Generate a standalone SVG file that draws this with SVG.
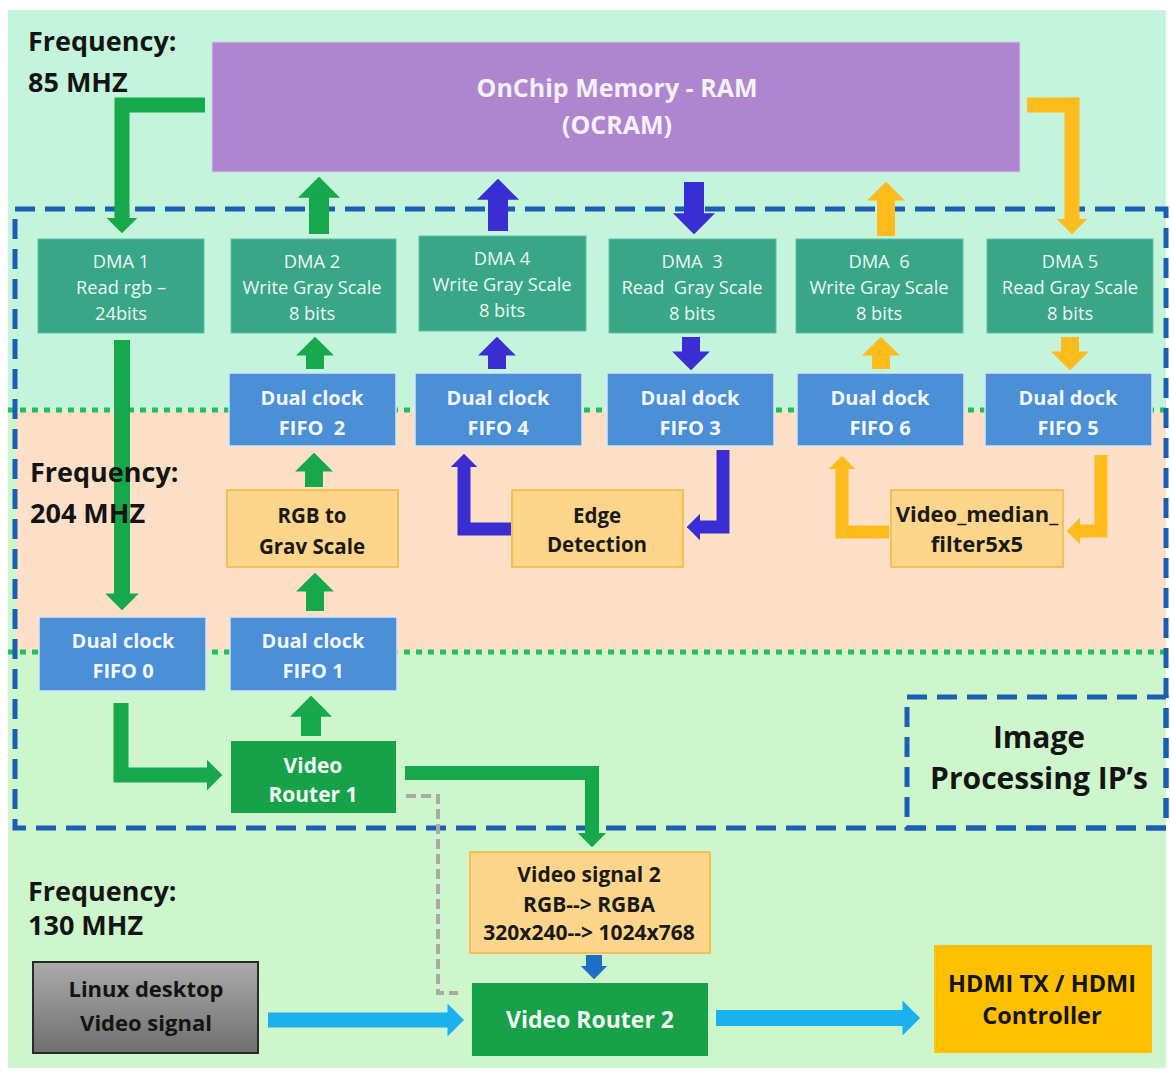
<svg xmlns="http://www.w3.org/2000/svg" width="1170" height="1074" viewBox="0 0 1170 1074">
<style>
text{font-family:"Open Sans",Lato,"Liberation Sans",Arial,sans-serif;text-anchor:middle}
.freq{font-size:27px;font-weight:700;fill:#141414;text-anchor:start}
.big{font-size:30px;font-weight:700;fill:#141414}
.ocram rect{fill:#ae86d0;stroke:#d8c8e8;stroke-width:1}
.ocram text{font-size:25px;font-weight:700;fill:#f6f0fb}
.dma rect{fill:#38a687;stroke:#62c0a3;stroke-width:1}
.dma text{font-size:18.3px;fill:#eef8f3}
.fifo rect{fill:#4b8fd6;stroke:#d5e5f7;stroke-width:1.5}
.fifo text{font-size:20px;font-weight:700;fill:#f3f8fd}
.proc rect{fill:#fed68b;stroke:#f2b63a;stroke-width:1.5}
.proc text{font-size:20.5px;font-weight:700;fill:#1a1a1a}
.router rect{fill:#17a24a}
.router text{font-size:21px;font-weight:700;fill:#f2fbf4}
.dark text{font-size:22px;font-weight:700;fill:#141414}
.conn path{fill:none;stroke-linejoin:miter}
.g{stroke:#16a84a}
.b{stroke:#3a2dd1}
.o{stroke:#fdbb1c}
.c{stroke:#1bb0ee}
.db{stroke:#1f6dc7}
</style>
<defs>
<marker id="mg" viewBox="0 0 10 20" refX="0.3" refY="10" markerWidth="1.05" markerHeight="2.15" markerUnits="strokeWidth" orient="auto"><path d="M0,0L10,10L0,20z" fill="#16a84a"/></marker>
<marker id="mb" viewBox="0 0 10 20" refX="0.3" refY="10" markerWidth="1.05" markerHeight="2.15" markerUnits="strokeWidth" orient="auto"><path d="M0,0L10,10L0,20z" fill="#3a2dd1"/></marker>
<marker id="mo" viewBox="0 0 10 20" refX="0.3" refY="10" markerWidth="1.05" markerHeight="2.15" markerUnits="strokeWidth" orient="auto"><path d="M0,0L10,10L0,20z" fill="#fdbb1c"/></marker>
<marker id="mc" viewBox="0 0 10 20" refX="0.3" refY="10" markerWidth="1.3" markerHeight="2.2" markerUnits="strokeWidth" orient="auto"><path d="M0,0L10,10L0,20z" fill="#1bb0ee"/></marker>
<marker id="mdb" viewBox="0 0 10 20" refX="0.3" refY="10" markerWidth="0.85" markerHeight="2.1" markerUnits="strokeWidth" orient="auto"><path d="M0,0L10,10L0,20z" fill="#1f6dc7"/></marker>
<linearGradient id="gray" x1="0" y1="0" x2="0" y2="1"><stop offset="0" stop-color="#ababab"/><stop offset="1" stop-color="#6f6f6f"/></linearGradient>
</defs>

<g id="background">
<rect x="0" y="0" width="1170" height="1074" fill="#ffffff"/>
<rect x="8" y="10" width="1158" height="1058" fill="#cdf6cc"/>
<rect x="8" y="10" width="1158" height="400" fill="#c5f4dc"/>
<rect x="16" y="410" width="1150" height="242" fill="#fde0c7"/>
<path d="M8,410H1166M8,652H1166" stroke="#1fc25a" stroke-width="5" stroke-dasharray="6 6" fill="none"/>
<rect x="15" y="209" width="1151" height="619" fill="none" stroke="#1a5fb4" stroke-width="5" stroke-dasharray="20 10"/>
<rect x="907" y="697" width="259" height="131" fill="none" stroke="#1a5fb4" stroke-width="5" stroke-dasharray="20 10"/>
</g>

<g id="connectors" class="conn">
<path class="g" stroke-width="15" d="M205,105H122V218" marker-end="url(#mg)"/>
<path class="g" stroke-width="20" d="M319,234V197" marker-end="url(#mg)"/>
<path class="b" stroke-width="20" d="M498,231V199" marker-end="url(#mb)"/>
<path class="b" stroke-width="20" d="M694,182V214" marker-end="url(#mb)"/>
<path class="o" stroke-width="18" d="M886,236V200" marker-end="url(#mo)"/>
<path class="o" stroke-width="15" d="M1027,105H1072V219" marker-end="url(#mo)"/>
<path class="g" stroke-width="16" d="M122,340V594" marker-end="url(#mg)"/>
<path class="g" stroke-width="18" d="M315,369V355" marker-end="url(#mg)"/>
<path class="b" stroke-width="18" d="M497,369V355" marker-end="url(#mb)"/>
<path class="b" stroke-width="18" d="M691,337V352" marker-end="url(#mb)"/>
<path class="o" stroke-width="18" d="M881,369V355" marker-end="url(#mo)"/>
<path class="o" stroke-width="18" d="M1070,337V352" marker-end="url(#mo)"/>
<path class="g" stroke-width="18" d="M314,487V471" marker-end="url(#mg)"/>
<path class="g" stroke-width="18" d="M315,611V591" marker-end="url(#mg)"/>
<path class="b" stroke-width="13" d="M723,450V527H700" marker-end="url(#mb)"/>
<path class="b" stroke-width="13" d="M511,529H464V467" marker-end="url(#mb)"/>
<path class="o" stroke-width="13" d="M1101,455V531H1080" marker-end="url(#mo)"/>
<path class="o" stroke-width="13" d="M889,532H842V469" marker-end="url(#mo)"/>
<path class="g" stroke-width="15" d="M121,703V775H207" marker-end="url(#mg)"/>
<path class="g" stroke-width="20" d="M311,736V716" marker-end="url(#mg)"/>
<path class="g" stroke-width="14" d="M405,773H592V833" marker-end="url(#mg)"/>
<path d="M406,796H438V993H458" stroke="#a9a9a9" stroke-width="4" stroke-dasharray="10 5"/>
<path class="db" stroke-width="16" d="M594,955V966" marker-end="url(#mdb)"/>
<path class="c" stroke-width="15" d="M268,1020H448" marker-end="url(#mc)"/>
<path class="c" stroke-width="16" d="M716,1018H903" marker-end="url(#mc)"/>
</g>

<g id="labels">
<text class="freq" x="28" y="51">Frequency:</text>
<text class="freq" x="28" y="92">85 MHZ</text>
<text class="freq" x="30" y="482">Frequency:</text>
<text class="freq" x="30" y="523">204 MHZ</text>
<text class="freq" x="28" y="901">Frequency:</text>
<text class="freq" x="28" y="935">130 MHZ</text>
<g id="image-processing-label"><text class="big" x="1039" y="748">Image</text><text class="big" x="1039" y="789">Processing IP’s</text></g>
</g>

<g id="ocram" class="ocram"><rect x="212" y="42" width="808" height="130"/><text x="617" y="97">OnChip Memory - RAM</text><text x="617" y="134">(OCRAM)</text></g>

<g id="dma1" class="dma"><rect x="38" y="239" width="166" height="94"/><text x="121" y="268">DMA 1</text><text x="121" y="294">Read rgb –</text><text x="121" y="320">24bits</text></g>
<g id="dma2" class="dma"><rect x="231" y="239" width="165" height="94"/><text x="312" y="268">DMA 2</text><text x="312" y="294">Write Gray Scale</text><text x="312" y="320">8 bits</text></g>
<g id="dma4" class="dma"><rect x="419" y="236" width="167" height="95"/><text x="502" y="265">DMA 4</text><text x="502" y="291">Write Gray Scale</text><text x="502" y="317">8 bits</text></g>
<g id="dma3" class="dma"><rect x="609" y="239" width="167" height="94"/><text x="692" y="268" xml:space="preserve">DMA  3</text><text x="692" y="294" xml:space="preserve">Read  Gray Scale</text><text x="692" y="320">8 bits</text></g>
<g id="dma6" class="dma"><rect x="796" y="239" width="167" height="94"/><text x="879" y="268" xml:space="preserve">DMA  6</text><text x="879" y="294">Write Gray Scale</text><text x="879" y="320">8 bits</text></g>
<g id="dma5" class="dma"><rect x="987" y="239" width="166" height="94"/><text x="1070" y="268">DMA 5</text><text x="1070" y="294">Read Gray Scale</text><text x="1070" y="320">8 bits</text></g>

<g id="fifo2" class="fifo"><rect x="229" y="373" width="167" height="73"/><text x="312" y="405">Dual clock</text><text x="312" y="435" xml:space="preserve">FIFO  2</text></g>
<g id="fifo4" class="fifo"><rect x="415" y="373" width="167" height="73"/><text x="498" y="405">Dual clock</text><text x="498" y="435">FIFO 4</text></g>
<g id="fifo3" class="fifo"><rect x="607" y="373" width="167" height="73"/><text x="690" y="405">Dual dock</text><text x="690" y="435">FIFO 3</text></g>
<g id="fifo6" class="fifo"><rect x="797" y="373" width="167" height="73"/><text x="880" y="405">Dual dock</text><text x="880" y="435">FIFO 6</text></g>
<g id="fifo5" class="fifo"><rect x="985" y="373" width="167" height="73"/><text x="1068" y="405">Dual dock</text><text x="1068" y="435">FIFO 5</text></g>
<g id="fifo0" class="fifo"><rect x="39" y="617" width="167" height="74"/><text x="123" y="648">Dual clock</text><text x="123" y="678">FIFO 0</text></g>
<g id="fifo1" class="fifo"><rect x="230" y="617" width="167" height="74"/><text x="313" y="648">Dual clock</text><text x="313" y="678">FIFO 1</text></g>

<g id="rgb-to-gray" class="proc"><rect x="227" y="490" width="171" height="77"/><text x="312" y="523">RGB to</text><text x="312" y="554">Grav Scale</text></g>
<g id="edge-detection" class="proc"><rect x="512" y="490" width="171" height="77"/><text x="597" y="523">Edge</text><text x="597" y="552">Detection</text></g>
<g id="median-filter" class="proc"><rect x="891" y="490" width="172" height="77"/><text x="977" y="522" style="font-size:22px">Video_median_</text><text x="977" y="552" style="font-size:22px">filter5x5</text></g>

<g id="video-router-1" class="router"><rect x="231" y="741" width="165" height="72"/><text x="313" y="773">Video</text><text x="313" y="802">Router 1</text></g>
<g id="video-signal-2" class="proc"><rect x="470" y="852" width="240" height="101" stroke="none"/><text x="589" y="882" style="font-size:21px">Video signal 2</text><text x="589" y="912" style="font-size:21px">RGB--&gt; RGBA</text><text x="589" y="940" style="font-size:21px">320x240--&gt; 1024x768</text></g>
<g id="video-router-2" class="router"><rect x="472" y="983" width="236" height="73"/><text x="590" y="1028" style="font-size:23px">Video Router 2</text></g>
<g id="linux-desktop" class="dark"><rect x="33" y="962" width="225" height="91" fill="url(#gray)" stroke="#2a2a2a" stroke-width="2"/><text x="146" y="997">Linux desktop</text><text x="146" y="1031">Video signal</text></g>
<g id="hdmi" class="dark"><rect x="934" y="945" width="218" height="108" fill="#ffc000"/><text x="1042" y="992" style="font-size:23.5px">HDMI TX / HDMI</text><text x="1042" y="1024" style="font-size:23.5px">Controller</text></g>
</svg>
